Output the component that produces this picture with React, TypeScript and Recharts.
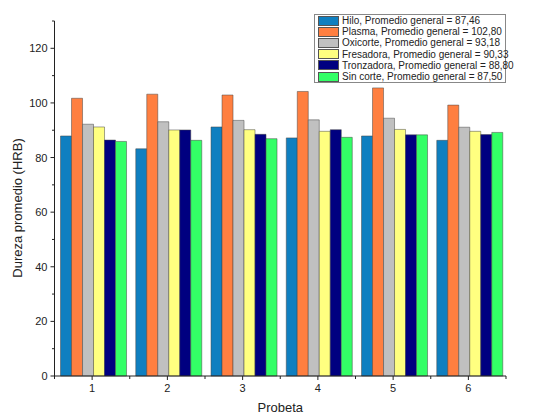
import { BarChart, Bar, XAxis, YAxis, Legend } from 'recharts';

const probetas = ['1', '2', '3', '4', '5', '6']
const hilo = [87.9, 83.2, 91.2, 87.2, 87.9, 86.3]
const plasma = [101.7, 103.2, 102.9, 104.2, 105.5, 99.2]
const oxicorte = [92.2, 93.1, 93.6, 93.8, 94.4, 91.1]
const fresadora = [91.2, 90.1, 90.2, 89.6, 90.3, 89.6]
const tronzadora = [86.4, 90.1, 88.5, 90.2, 88.3, 88.4]
const sinCorte = [85.9, 86.3, 86.9, 87.4, 88.3, 89.2]
const yTicks = [0, 10, 20, 30, 40, 50, 60, 70, 80, 90, 100, 110, 120, 130]

const SERIES = [
  { key: 'hilo', name: 'Hilo, Promedio general = 87,46', color: '#0f7fc0', values: hilo },
  { key: 'plasma', name: 'Plasma, Promedio general = 102,80', color: '#ff7f40', values: plasma },
  { key: 'oxicorte', name: 'Oxicorte, Promedio general = 93,18', color: '#c0c0c0', values: oxicorte },
  { key: 'fresadora', name: 'Fresadora, Promedio general = 90,33', color: '#ffff80', values: fresadora },
  { key: 'tronzadora', name: 'Tronzadora, Promedio general = 88,80', color: '#000080', values: tronzadora },
  { key: 'sinCorte', name: 'Sin corte, Promedio general = 87,50', color: '#33ff66', values: sinCorte },
]

const data = probetas.map((p, i) => {
  const row: Record<string, string | number> = { probeta: p }
  SERIES.forEach(s => { row[s.key] = s.values[i] })
  return row
})

const FONT = '"Liberation Sans", Arial, sans-serif'

function YTick(props: any) {
  const { x, y, payload } = props
  const major = payload.value % 20 === 0
  return (
    <g>
      <line x1={x - (major ? 4 : 2.5)} x2={x} y1={y} y2={y} stroke="#222" strokeWidth={1} />
      {major && (
        <text x={x - 7} y={y} dy={4} textAnchor="end" fontSize={11} fill="#222" fontFamily={FONT}>
          {payload.value}
        </text>
      )}
    </g>
  )
}

function XTick(props: any) {
  const { x, y, payload, index, visibleTicksCount } = props
  const half = payload.offset ?? 37.6
  const last = index === visibleTicksCount - 1
  return (
    <g>
      <line x1={x} x2={x} y1={y} y2={y + 4} stroke="#222" strokeWidth={1} />
      <line x1={x - half} x2={x - half} y1={y} y2={y + 3} stroke="#222" strokeWidth={1} />
      {last && <line x1={x + half} x2={x + half} y1={y} y2={y + 3} stroke="#222" strokeWidth={1} />}
      <text x={x} y={y + 16} textAnchor="middle" fontSize={11} fill="#222" fontFamily={FONT}>
        {payload.value}
      </text>
    </g>
  )
}

function LegendBox() {
  return (
    <div style={{
      border: '1px solid #888', background: '#fff', padding: '0 3px',
      fontFamily: FONT, fontSize: 10, color: '#222', width: 192, boxSizing: 'border-box',
    }}>
      {SERIES.map(s => (
        <div key={s.key} style={{ display: 'flex', alignItems: 'center', height: 11.2 }}>
          <span style={{
            display: 'inline-block', width: 19, height: 8, background: s.color,
            border: '0.5px solid #555', marginRight: 3, flexShrink: 0,
          }} />
          <span style={{ whiteSpace: 'nowrap' }}>{s.name}</span>
        </div>
      ))}
    </div>
  )
}

export default function App() {
  return (
    <div style={{ position: 'absolute', left: 0, top: 0, background: '#fff' }}>
      <BarChart
        width={540}
        height={416}
        data={data}
        margin={{ top: 21, right: 34, bottom: 0, left: 0 }}
        barCategoryGap="8%"
        barGap={0}
      >
        <XAxis
          dataKey="probeta"
          height={40}
          axisLine={{ stroke: '#222' }}
          tickLine={false}
          tickSize={0}
          tickMargin={0}
          tick={<XTick />}
          interval={0}
          label={({ viewBox }: any) => (
            <text
              x={viewBox.x + viewBox.width / 2}
              y={411.5}
              textAnchor="middle"
              fontSize={13}
              fill="#222"
              fontFamily={FONT}
            >
              Probeta
            </text>
          )}
        />
        <YAxis
          width={54.5}
          domain={[0, 130]}
          ticks={yTicks}
          interval={0}
          axisLine={{ stroke: '#222' }}
          tickLine={false}
          tickSize={0}
          tickMargin={0}
          tick={<YTick />}
          label={() => (
            <text
              x={17}
              y={208}
              transform="rotate(-90, 17, 208)"
              textAnchor="middle"
              dominantBaseline="central"
              fontSize={13}
              fill="#222"
              fontFamily={FONT}
            >
              Dureza promedio (HRB)
            </text>
          )}
        />
        <Legend
          content={<LegendBox />}
          layout="horizontal"
          verticalAlign="middle"
          align="center"
          wrapperStyle={{ position: 'absolute', top: 14, left: 314, width: 'auto', height: 'auto' }}
        />
        {SERIES.map(s => (
          <Bar
            key={s.key}
            dataKey={s.key}
            name={s.name}
            fill={s.color}
            stroke="#444"
            strokeWidth={0.5}
            isAnimationActive={false}
          />
        ))}
      </BarChart>
    </div>
  )
}
